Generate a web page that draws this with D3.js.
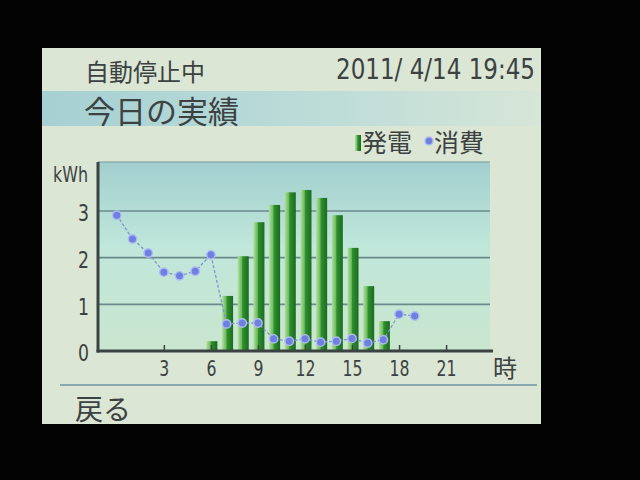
<!DOCTYPE html>
<html><head><meta charset="utf-8">
<script src="https://cdn.jsdelivr.net/npm/d3@7"></script>
<style>
html,body{margin:0;padding:0;background:#030303;}
svg{display:block;}
text{white-space:pre;}
</style></head>
<body>
<svg id="c" width="640" height="480"></svg>
<script>
// ---- data ----
const hours = [0,1,2,3,4,5,6,7,8,9,10,11,12,13,14,15,16,17,18,19];
const generation = [0,0,0,0,0,0,0.21,1.18,2.03,2.76,3.13,3.40,3.45,3.28,2.91,2.21,1.39,0.64,0,0];
const consumption = [2.91,2.40,2.10,1.69,1.61,1.71,2.06,0.58,0.60,0.60,0.26,0.21,0.26,0.19,0.21,0.27,0.17,0.24,0.79,0.75];
const xTicks = [3,6,9,12,15,18,21];
const yTicks = [0,1,2,3];
const gridTicks = [1,2,3];
const statusText = "自動停止中";
const dateText = "2011/ 4/14 19:45";
const titleText = "今日の実績";
const legendLabels = ["発電","消費"];
const yUnit = "kWh";
const xUnit = "時";
const backText = "戻る";

const svg = d3.select("#c");
const CJK = "'Noto Sans CJK JP', sans-serif";
const NUM = "'DejaVu Sans', sans-serif";
const ink = "#3c4242";

const defs = svg.append("defs");
const bandG = defs.append("linearGradient").attr("id","band").attr("x1",0).attr("x2",1).attr("y1",0).attr("y2",0);
bandG.append("stop").attr("offset","0%").attr("stop-color","#a6d0d3");
bandG.append("stop").attr("offset","55%").attr("stop-color","#bcdcd8");
bandG.append("stop").attr("offset","100%").attr("stop-color","#d6e6d8");
const plotG = defs.append("linearGradient").attr("id","plotbg").attr("x1",0).attr("x2",0).attr("y1",0).attr("y2",1);
plotG.append("stop").attr("offset","0%").attr("stop-color","#a2cfcf");
plotG.append("stop").attr("offset","45%").attr("stop-color","#c0e7da");
plotG.append("stop").attr("offset","100%").attr("stop-color","#c9e6cf");
const barG = defs.append("linearGradient").attr("id","bar").attr("x1",0).attr("x2",1).attr("y1",0).attr("y2",0);
barG.append("stop").attr("offset","0%").attr("stop-color","#b2dea0");
barG.append("stop").attr("offset","35%").attr("stop-color","#6cbd5c");
barG.append("stop").attr("offset","45%").attr("stop-color","#2f8f30");
barG.append("stop").attr("offset","100%").attr("stop-color","#1b6c1d");

// screen
svg.append("rect").attr("x",42).attr("y",48).attr("width",499).attr("height",376).attr("fill","#dbe6d4");
svg.append("rect").attr("x",42).attr("y",91).attr("width",499).attr("height",35).attr("fill","url(#band)");

// header texts
svg.append("text").attr("x",85).attr("y",81).attr("font-family",CJK).attr("font-size",24).attr("fill",ink).text(statusText);
svg.append("text").attr("x",336).attr("y",79).attr("font-family",NUM).attr("font-size",28).attr("fill",ink)
  .attr("textLength",199).attr("lengthAdjust","spacingAndGlyphs").text(dateText);
svg.append("text").attr("x",84).attr("y",123).attr("font-family",CJK).attr("font-size",31).attr("fill",ink).text(titleText);

// scales
const x = d3.scaleLinear().domain([-1.2, 23.8]).range([98, 490]);
const y = d3.scaleLinear().domain([0, 4.05]).range([351, 162]);

// plot bg
svg.append("rect").attr("x",x.range()[0]).attr("y",y.range()[1]).attr("width",x.range()[1]-x.range()[0])
  .attr("height",y.range()[0]-y.range()[1]).attr("fill","url(#plotbg)");
svg.append("line").attr("x1",x.range()[0]).attr("x2",x.range()[1]).attr("y1",y.range()[1]).attr("y2",y.range()[1])
  .attr("stroke","#8fb0ae").attr("stroke-width",1.5);

// gridlines
svg.append("g").selectAll("line").data(gridTicks).join("line")
  .attr("x1",x.range()[0]).attr("x2",x.range()[1]).attr("y1",d=>y(d)).attr("y2",d=>y(d))
  .attr("stroke","#6c8a8c").attr("stroke-width",1.6);

// bars
const bw = 11;
svg.append("g").selectAll("rect").data(hours.filter((h,i)=>generation[i]>0)).join("rect")
  .attr("x",h=>x(h)-bw/2+1).attr("width",bw)
  .attr("y",h=>y(generation[h])).attr("height",h=>y(0)-y(generation[h]))
  .attr("fill","url(#bar)");

// axes
const yAxis = svg.append("g").attr("transform",`translate(${x.range()[0]},0)`)
  .call(d3.axisLeft(y).tickValues(yTicks).tickSize(0).tickPadding(9).tickFormat(d3.format("d")));
yAxis.select(".domain").remove();
yAxis.selectAll("text").attr("font-family",NUM).attr("font-size",23).attr("fill",ink)
  .attr("dy","0.42em").attr("textLength",11).attr("lengthAdjust","spacingAndGlyphs");

const xAxis = svg.append("g").attr("transform",`translate(0,${y(0)})`)
  .call(d3.axisBottom(x).tickValues(xTicks).tickSizeInner(-6).tickSizeOuter(0).tickPadding(11).tickFormat(d3.format("d")));
xAxis.select(".domain").remove();
xAxis.selectAll(".tick line").attr("stroke","#3a4444").attr("stroke-width",1.5);
xAxis.selectAll("text").attr("font-family",NUM).attr("font-size",22).attr("fill",ink)
  .attr("y",25).attr("dy",0)
  .attr("textLength",d=>String(d).length*10).attr("lengthAdjust","spacingAndGlyphs");

// axis lines
svg.append("line").attr("x1",x.range()[0]).attr("x2",x.range()[0]).attr("y1",y.range()[1]).attr("y2",y(0)+1.5)
  .attr("stroke","#3a4242").attr("stroke-width",3);
svg.append("line").attr("x1",x.range()[0]-1.5).attr("x2",493).attr("y1",y(0)).attr("y2",y(0))
  .attr("stroke","#3a4242").attr("stroke-width",3);

// consumption line
svg.append("path").datum(hours)
  .attr("d",d3.line().x(h=>x(h)).y(h=>y(consumption[h])))
  .attr("fill","none").attr("stroke","#7f92d6").attr("stroke-width",1.3).attr("stroke-dasharray","3,2");
svg.append("g").selectAll("circle").data(hours).join("circle")
  .attr("cx",h=>x(h)).attr("cy",h=>y(consumption[h])).attr("r",4.2)
  .attr("fill","#6e80e2").attr("stroke","#aebcf0").attr("stroke-width",1.4);

// unit labels
svg.append("text").attr("x",53).attr("y",182).attr("font-family",NUM).attr("font-size",22).attr("fill",ink)
  .attr("textLength",35).attr("lengthAdjust","spacingAndGlyphs").text(yUnit);
svg.append("text").attr("x",493).attr("y",377).attr("font-family",CJK).attr("font-size",24).attr("fill",ink).text(xUnit);

// legend
svg.append("rect").attr("x",355).attr("y",135).attr("width",6).attr("height",16).attr("fill","url(#bar)");
svg.append("text").attr("x",362).attr("y",152).attr("font-family",CJK).attr("font-size",25).attr("fill",ink).text(legendLabels[0]);
svg.append("circle").attr("cx",429).attr("cy",141).attr("r",4).attr("fill","#6e80e2").attr("stroke","#aebcf0").attr("stroke-width",1.4);
svg.append("text").attr("x",434).attr("y",152).attr("font-family",CJK).attr("font-size",25).attr("fill",ink).text(legendLabels[1]);

// bottom separator and back
svg.append("line").attr("x1",60).attr("x2",537).attr("y1",385).attr("y2",385).attr("stroke","#8aa6ae").attr("stroke-width",2);
svg.append("text").attr("x",75).attr("y",420).attr("font-family",CJK).attr("font-size",28).attr("fill",ink).text(backText);
</script>
</body></html>
